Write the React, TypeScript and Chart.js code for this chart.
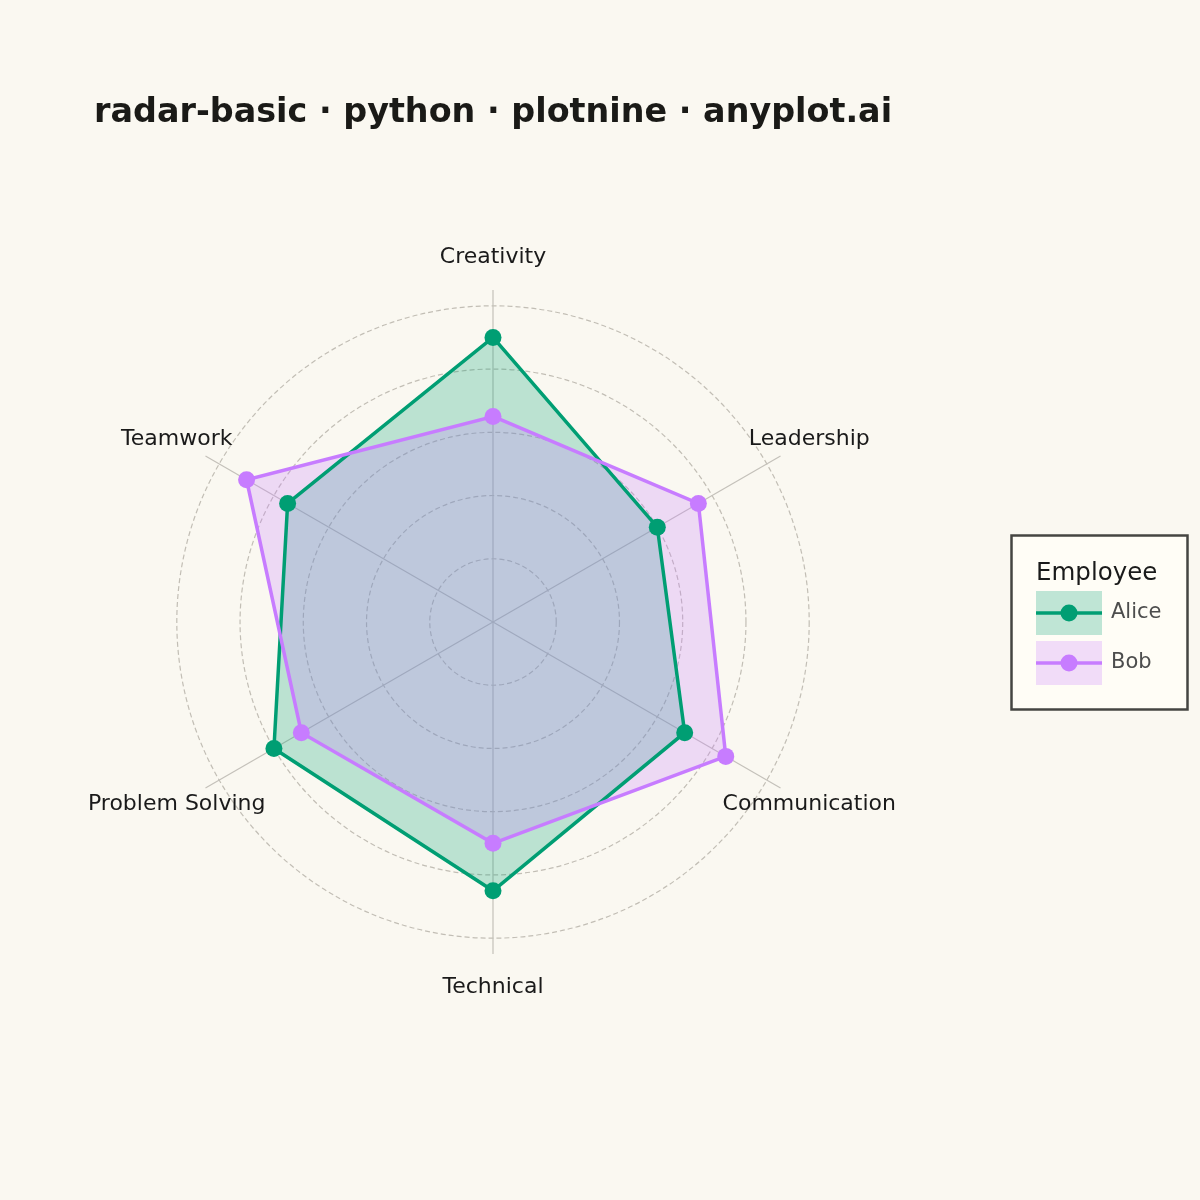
import React, { useEffect, useRef } from "react";
import { Chart, registerables } from "chart.js";

Chart.register(...registerables);

const categories = ["Creativity", "Leadership", "Communication", "Technical", "Problem Solving", "Teamwork"];
const aliceValues = [90, 60, 70, 85, 80, 75];
const bobValues = [65, 75, 85, 70, 70, 90];
const gridTicks = [0, 20, 40, 60, 80, 100];
const seriesNames = ["Alice", "Bob"];
const legendTitle = "Employee";
const titleText = "radar-basic · python · plotnine · anyplot.ai";

const BG = "#FAF8F1";
const GREEN = "#009E73";
const PURPLE = "#C77CFF";
const GREEN_FILL = "rgba(0,158,115,0.25)";
const PURPLE_FILL = "rgba(199,124,255,0.25)";
const FONT = "'DejaVu Sans', sans-serif";

const decorPlugin = {
  id: "decor",
  beforeDraw(chart: any) {
    const ctx = chart.ctx;
    ctx.save();
    ctx.fillStyle = BG;
    ctx.fillRect(0, 0, chart.width, chart.height);
    ctx.restore();
  },
  afterDraw(chart: any) {
    const ctx = chart.ctx;
    const scale = chart.scales.r;
    ctx.save();
    // title
    ctx.fillStyle = "#1A1A17";
    ctx.font = `bold 33.4px ${FONT}`;
    ctx.textAlign = "left";
    ctx.textBaseline = "alphabetic";
    ctx.fillText(titleText, 94, 122);

    // point labels
    ctx.fillStyle = "#1A1A1A";
    ctx.font = `22px ${FONT}`;
    ctx.textAlign = "center";
    ctx.textBaseline = "middle";
    categories.forEach((c, i) => {
      const p = scale.getPointPosition(i, scale.drawingArea * 1.1);
      ctx.fillText(c, p.x, p.y);
    });

    // legend
    const lx = 1011.5, ly = 535.5, lw = 176, lh = 174;
    ctx.fillStyle = "#FFFDF6";
    ctx.fillRect(lx, ly, lw, lh);
    ctx.strokeStyle = "#454542";
    ctx.lineWidth = 2.5;
    ctx.strokeRect(lx, ly, lw, lh);
    ctx.fillStyle = "#1A1A1A";
    ctx.font = `24.5px ${FONT}`;
    ctx.textAlign = "left";
    ctx.textBaseline = "alphabetic";
    ctx.fillText(legendTitle, 1036, 580);
    const cols = [GREEN, PURPLE];
    const fills = [GREEN_FILL, PURPLE_FILL];
    seriesNames.forEach((name, i) => {
      const ky = 591 + i * 50;
      ctx.fillStyle = fills[i];
      ctx.fillRect(1036, ky, 66, 44);
      const cy = ky + 22;
      ctx.strokeStyle = cols[i];
      ctx.lineWidth = 3.5;
      ctx.beginPath();
      ctx.moveTo(1036, cy);
      ctx.lineTo(1102, cy);
      ctx.stroke();
      ctx.fillStyle = cols[i];
      ctx.beginPath();
      ctx.arc(1069, cy, 8.5, 0, Math.PI * 2);
      ctx.fill();
      ctx.fillStyle = "#4D4D4D";
      ctx.font = `21px ${FONT}`;
      ctx.textBaseline = "middle";
      ctx.fillText(name, 1111, cy);
    });
    ctx.restore();
  },
};

export default function App() {
  const ref = useRef<HTMLCanvasElement | null>(null);
  useEffect(() => {
    document.body.style.margin = "0";
    document.body.style.background = BG;
    const canvas = ref.current;
    if (!canvas) return;
    const chart = new Chart(canvas, {
      type: "radar",
      data: {
        labels: categories,
        datasets: [
          {
            label: seriesNames[0],
            data: aliceValues,
            borderColor: GREEN,
            backgroundColor: GREEN_FILL,
            pointBackgroundColor: GREEN,
            pointBorderColor: GREEN,
            pointBorderWidth: 0,
            pointRadius: 8.5,
            borderWidth: 3.5,
            fill: "origin",
            order: 1,
          },
          {
            label: seriesNames[1],
            data: bobValues,
            borderColor: PURPLE,
            backgroundColor: PURPLE_FILL,
            pointBackgroundColor: PURPLE,
            pointBorderColor: PURPLE,
            pointBorderWidth: 0,
            pointRadius: 8.5,
            borderWidth: 3.5,
            fill: "origin",
            order: 0,
          },
        ],
      },
      options: {
        responsive: false,
        animation: false,
        layout: { padding: { left: 161, right: 375, top: 290, bottom: 246 } },
        elements: { line: { tension: 0 } },
        plugins: {
          legend: { display: false },
          title: { display: false },
          tooltip: { enabled: false },
          filler: { drawTime: "beforeDatasetsDraw" },
        },
        scales: {
          r: {
            min: 0,
            max: 105,
            afterBuildTicks: (scale: any) => {
              scale.ticks = gridTicks.map((v) => ({ value: v }));
            },
            ticks: { display: false },
            pointLabels: { display: false },
            grid: { circular: true, color: "#C2BEB5", lineWidth: 1.2 },
            border: { dash: [5, 3] },
            angleLines: { display: true, color: "#C4C1BA", lineWidth: 1.2 },
          },
        },
      },
      plugins: [decorPlugin],
    } as any);
    return () => chart.destroy();
  }, []);
  return (
    <div style={{ position: "absolute", left: 0, top: 0, width: 1200, height: 1200, background: BG }}>
      <canvas ref={ref} width={1200} height={1200} style={{ width: 1200, height: 1200, display: "block" }} />
    </div>
  );
}
